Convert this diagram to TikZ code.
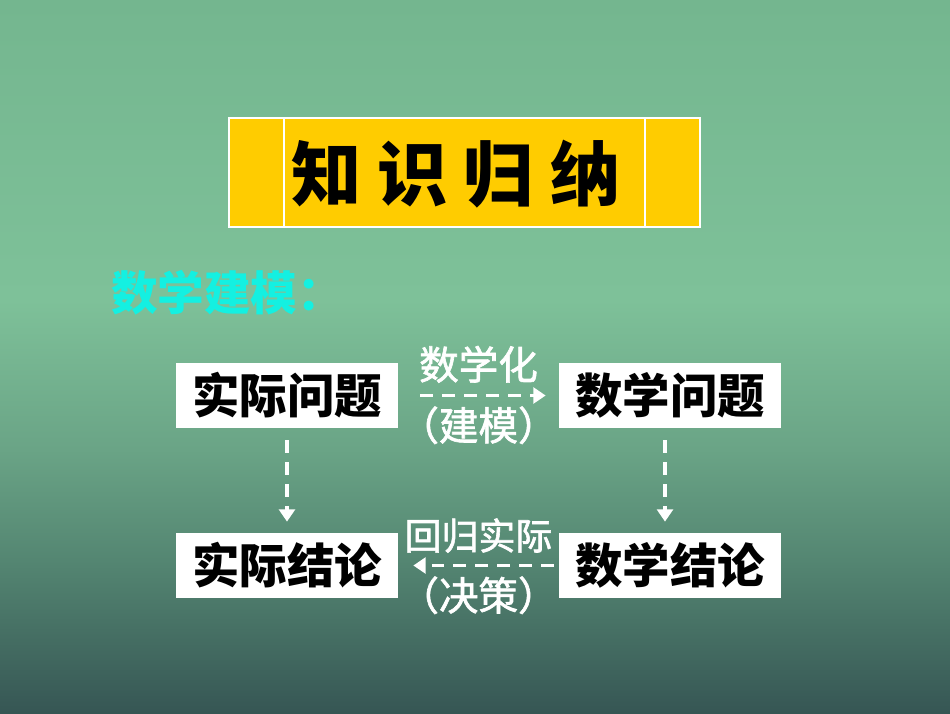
\documentclass[tikz,border=0pt]{standalone}
\usepackage{fontspec}
\newfontfamily\cjk{Noto Sans CJK SC}
\newfontfamily\cjkmed[BoldFont={Noto Sans CJK SC},BoldFeatures={FakeBold=1.6}]{Noto Sans CJK SC}
\usepackage{tikz}
\usetikzlibrary{arrows.meta}

\definecolor{bgtop}{RGB}{116,182,143}
\definecolor{bglight}{RGB}{126,193,153}
\definecolor{bgmid}{RGB}{106,164,134}
\definecolor{bglow}{RGB}{84,134,114}
\definecolor{bgbot}{RGB}{54,86,84}
\definecolor{titleyellow}{RGB}{255,204,0}
\definecolor{headcyan}{RGB}{20,240,225}

% the path is mapped onto 25bp..75bp of the shading
\pgfdeclareverticalshading{bgshade}{100bp}{color(0bp)=(bgbot); color(25bp)=(bgbot);
	color(35.75bp)=(bglow); color(43.5bp)=(bgmid); color(54bp)=(bglight);
	color(75bp)=(bgtop); color(100bp)=(bgtop)}

\begin{document}
\begin{tikzpicture}[font=\cjk\bfseries,
		box node/.style={rectangle,fill=white,minimum width=4.44cm,minimum height=1.3cm,
			inner sep=0pt,font=\cjk\bfseries\fontsize{27}{27}\selectfont},
		flow/.style={draw=white,line width=1.8pt,dash pattern=on 7pt off 5.5pt,
			-{Triangle[width=9pt,length=7pt,fill=white]}}]

	% background
	\shade[shading=bgshade] (0,0) rectangle (19,-14.26);
	\useasboundingbox (0,0) rectangle (19,-14.26);

	% title
	\node[rectangle,fill=titleyellow,draw=white,line width=1.5pt,minimum width=9.42cm,
		minimum height=2.18cm] (title) at (9.29,-3.45) {};
	\draw[white,line width=1.5pt] (5.68,-2.36) -- (5.68,-4.54) (12.9,-2.36) -- (12.9,-4.54);
	\node[font=\cjk\bfseries\fontsize{40}{40}\selectfont] (titletext) at (9.12,-3.48)
		{知\hspace{9pt}识\hspace{9pt}归\hspace{9pt}纳};

	\node[anchor=west,text=headcyan,font=\cjk\bfseries\fontsize{26.5}{26.5}\selectfont]
		(head) at (2.1,-5.86) {数学建模：};

	\node[box node] (realprob) at (5.74,-7.91) {实际问题};
	\node[box node] (mathprob) at (13.4,-7.91) {数学问题};
	\node[box node] (realconc) at (5.74,-11.31) {实际结论};
	\node[box node] (mathconc) at (13.4,-11.31) {数学结论};

	\path[every node/.style={text=white,font=\cjkmed\bfseries\fontsize{22.5}{22.5}\selectfont}]
		(realprob) edge [flow,shorten <=0.44cm,shorten >=0.26cm]
			node [above=3pt, midway] {数学化}
			node [below=2pt, midway] {（建模）} (mathprob)
		(mathconc) edge [flow,shorten <=0.1cm,shorten >=0.3cm]
			node [above=3pt, midway, font=\cjkmed\bfseries\fontsize{21}{21}\selectfont] {回归实际}
			node [below=2pt, midway] {（决策）} (realconc)
		(realprob) edge [flow,shorten <=0.24cm,shorten >=0.22cm] (realconc)
		([xshift=-0.1cm]mathprob.south) edge [flow,shorten <=0.24cm,shorten >=0.22cm]
			([xshift=-0.1cm]mathconc.north);
\end{tikzpicture}
\end{document}
